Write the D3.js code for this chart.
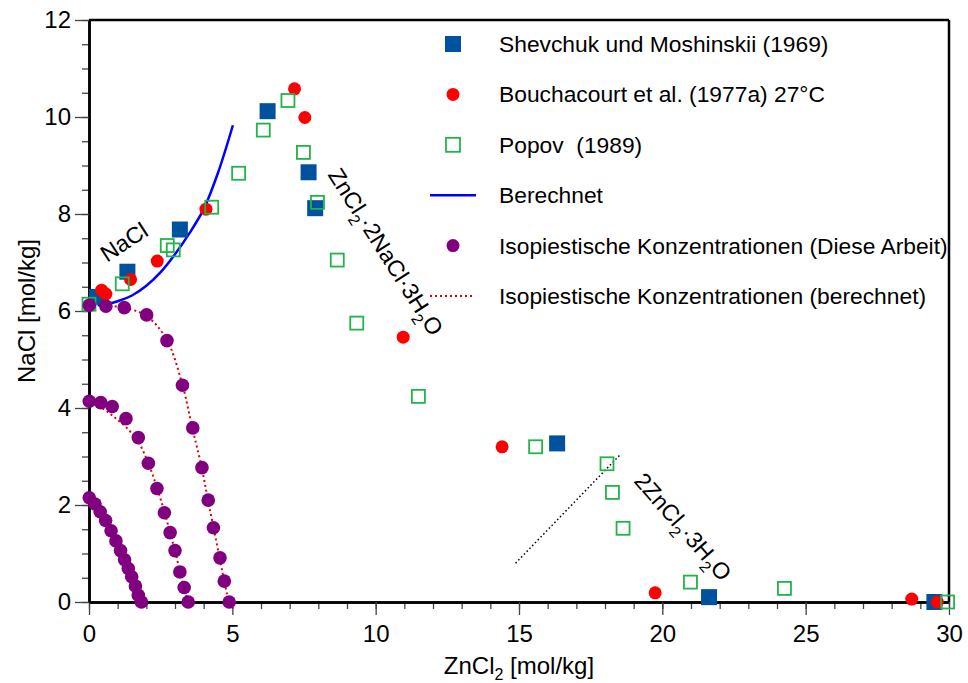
<!DOCTYPE html>
<html>
<head>
<meta charset="utf-8">
<script src="https://cdn.jsdelivr.net/npm/d3@7"></script>
<style>
  body { margin: 0; background: #fff; }
  text { font-family: "Liberation Sans", Arial, sans-serif; fill: #000; white-space: pre; }
</style>
</head>
<body>
<svg id="chart" width="968" height="683"></svg>
<script>
// Solubility data, NaCl–ZnCl2–H2O (mol/kg)
const shevchukX = [0.28, 1.34, 3.17, 6.23, 7.66, 7.89, 16.33, 21.63, 29.49];
const shevchukY = [6.29, 6.81, 7.68, 10.12, 8.86, 8.12, 3.27, 0.10, 0.0];

const bouchacourtX = [0.44, 0.59, 1.45, 2.38, 4.08, 7.17, 7.53, 10.96, 14.41, 19.75, 28.70, 29.59];
const bouchacourtY = [6.43, 6.35, 6.65, 7.03, 8.10, 10.58, 9.99, 5.46, 3.20, 0.19, 0.06, 0.0];

const popovX = [0.0, 1.16, 2.73, 2.94, 4.28, 5.22, 6.08, 6.94, 7.48, 7.97, 8.66, 9.34, 11.49, 15.58, 18.07, 18.26, 18.63, 20.98, 24.26, 29.95];
const popovY = [6.14, 6.56, 7.35, 7.26, 8.14, 8.84, 9.73, 10.34, 9.27, 8.24, 7.05, 5.75, 4.24, 3.20, 2.85, 2.26, 1.52, 0.41, 0.28, 0.0];

// Calculated NaCl solubility curve
const calcNaClX = [0.3, 0.6, 1.0, 1.5, 2.0, 2.5, 3.0, 3.5, 4.0, 4.5, 5.02];
const calcNaClY = [6.12, 6.14, 6.20, 6.32, 6.52, 6.80, 7.17, 7.60, 8.10, 8.85, 9.83];

// Isopiestic concentrations (this work), three series
const isoAX = [0.01, 0.59, 1.23, 2.01, 2.72, 3.26, 3.62, 3.94, 4.16, 4.34, 4.57, 4.72, 4.89];
const isoAY = [6.12, 6.10, 6.07, 5.92, 5.39, 4.47, 3.59, 2.77, 2.10, 1.53, 0.91, 0.43, 0.0];
const isoBX = [0.01, 0.41, 0.81, 1.29, 1.72, 2.07, 2.37, 2.63, 2.83, 3.00, 3.17, 3.32, 3.46];
const isoBY = [4.14, 4.11, 4.03, 3.78, 3.39, 2.86, 2.34, 1.84, 1.43, 1.06, 0.62, 0.30, 0.0];
const isoCX = [0.01, 0.21, 0.39, 0.58, 0.77, 0.94, 1.10, 1.24, 1.37, 1.49, 1.62, 1.72, 1.83];
const isoCY = [2.15, 2.02, 1.86, 1.68, 1.47, 1.26, 1.06, 0.87, 0.69, 0.52, 0.33, 0.14, 0.0];

// Isopiestic concentrations (calculated)
const calcAX = [0.55, 1.2, 2.0, 2.7, 3.25, 3.6, 3.93, 4.15, 4.35, 4.56, 4.72, 4.88];
const calcAY = [6.11, 6.07, 5.90, 5.42, 4.50, 3.60, 2.78, 2.10, 1.52, 0.90, 0.42, 0.0];
const calcBX = [0.0, 0.4, 0.8, 1.3, 1.72, 2.07, 2.38, 2.63, 2.83, 3.0, 3.18, 3.32, 3.46];
const calcBY = [4.12, 4.02, 3.85, 3.60, 3.30, 2.86, 2.34, 1.86, 1.43, 1.05, 0.62, 0.30, 0.0];
const calcCX = [0.0, 0.4, 0.8, 1.2, 1.5, 1.83];
const calcCY = [2.13, 1.85, 1.43, 0.93, 0.50, 0.0];

// Guide line near the ZnCl2 hydrate branch
const guideX = [14.88, 18.55];
const guideY = [0.80, 3.05];

const xMajor = [0, 5, 10, 15, 20, 25, 30];
const yMajor = [0, 2, 4, 6, 8, 10, 12];

const legendLabels = [
  "Shevchuk und Moshinskii (1969)",
  "Bouchacourt et al. (1977a) 27°C",
  "Popov  (1989)",
  "Berechnet",
  "Isopiestische Konzentrationen (Diese Arbeit)",
  "Isopiestische Konzentrationen (berechnet)"
];

const zip = (xs, ys) => xs.map((v, i) => [v, ys[i]]);

const svg = d3.select("#chart");
const x = d3.scaleLinear().domain([0, 30]).range([89, 949]);
const y = d3.scaleLinear().domain([0, 12]).range([602, 20]);

const COL = {
  blue: "#00519e", red: "#ff0000", green: "#22b34a",
  purple: "#800080", line: "#0000ff", dotted: "#e00000"
};

// Axes: minor ticks, then major ticks with labels
const gx = svg.append("g").attr("transform", `translate(0,${y(0)})`);
gx.append("g").call(d3.axisBottom(x).tickValues(d3.range(0, 31, 1)).tickSize(7).tickFormat("").tickSizeOuter(0));
gx.append("g").call(d3.axisBottom(x).tickValues(xMajor).tickSize(13).tickPadding(10).tickSizeOuter(0));
const gy = svg.append("g").attr("transform", `translate(${x(0)},0)`);
gy.append("g").call(d3.axisLeft(y).tickValues(d3.range(0, 12.01, 0.5)).tickSize(7).tickFormat("").tickSizeOuter(0));
gy.append("g").call(d3.axisLeft(y).tickValues(yMajor).tickSize(14).tickPadding(4).tickSizeOuter(0));

svg.selectAll(".tick line").attr("stroke", "#444").attr("stroke-width", 1.3);
svg.selectAll(".tick text").style("font-size", "24px").style("font-family", "'Liberation Sans', Arial, sans-serif").attr("fill", "#000");
svg.selectAll(".domain").attr("stroke", "#000").attr("stroke-width", 2.5);

// Frame top and right
svg.append("line").attr("x1", x(0)).attr("x2", x(30)).attr("y1", y(12)).attr("y2", y(12)).attr("stroke", "#000").attr("stroke-width", 2.5);
svg.append("line").attr("x1", x(30)).attr("x2", x(30)).attr("y1", y(12)).attr("y2", y(0)).attr("stroke", "#000").attr("stroke-width", 2.5);

// Axis titles
svg.append("text").attr("transform", `translate(35,${(y(0) + y(12)) / 2}) rotate(-90)`)
  .attr("text-anchor", "middle").style("font-size", "24px").text("NaCl [mol/kg]");
const xt = svg.append("text").attr("x", (x(0) + x(30)) / 2).attr("y", 674).attr("text-anchor", "middle").style("font-size", "24px");
xt.append("tspan").text("ZnCl");
xt.append("tspan").text("2").style("font-size", "16px").attr("dy", 6);
xt.append("tspan").text(" [mol/kg]").attr("dy", -6);

// Lines
const line = d3.line().x(d => x(d[0])).y(d => y(d[1]));
const smooth = d3.line().x(d => x(d[0])).y(d => y(d[1])).curve(d3.curveCatmullRom.alpha(0.5));

svg.append("path").datum(zip(guideX, guideY)).attr("d", line)
  .attr("fill", "none").attr("stroke", "#000").attr("stroke-width", 1.5).attr("stroke-dasharray", "1.5,2.5");

[zip(calcAX, calcAY), zip(calcBX, calcBY), zip(calcCX, calcCY)].forEach(s => {
  svg.append("path").datum(s).attr("d", smooth)
    .attr("fill", "none").attr("stroke", COL.dotted).attr("stroke-width", 2).attr("stroke-dasharray", "2,3");
});

svg.append("path").datum(zip(calcNaClX, calcNaClY)).attr("d", smooth)
  .attr("fill", "none").attr("stroke", COL.line).attr("stroke-width", 2.5);

// Markers
const SQ = 16, SQO = 13;
svg.append("g").selectAll("rect").data(zip(shevchukX, shevchukY)).join("rect")
  .attr("x", d => x(d[0]) - SQ / 2).attr("y", d => y(d[1]) - SQ / 2)
  .attr("width", SQ).attr("height", SQ).attr("fill", COL.blue);

svg.append("g").selectAll("circle").data(zip(bouchacourtX, bouchacourtY)).join("circle")
  .attr("cx", d => x(d[0])).attr("cy", d => y(d[1])).attr("r", 6.5).attr("fill", COL.red);

svg.append("g").selectAll("rect").data(zip(popovX, popovY)).join("rect")
  .attr("x", d => x(d[0]) - SQO / 2).attr("y", d => y(d[1]) - SQO / 2)
  .attr("width", SQO).attr("height", SQO).attr("fill", "none").attr("stroke", COL.green).attr("stroke-width", 1.8);

[zip(isoAX, isoAY), zip(isoBX, isoBY), zip(isoCX, isoCY)].forEach(s => {
  svg.append("g").selectAll("circle").data(s).join("circle")
    .attr("cx", d => x(d[0])).attr("cy", d => y(d[1])).attr("r", 6.8).attr("fill", COL.purple);
});

// Phase labels
svg.append("text").attr("transform", "translate(124,242) rotate(-33)")
  .attr("text-anchor", "middle").attr("dominant-baseline", "central").style("font-size", "23px").text("NaCl");

function hydrateLabel(parts, tx, ty, angle) {
  const t = svg.append("text").attr("transform", `translate(${tx},${ty}) rotate(${angle})`)
    .attr("text-anchor", "middle").style("font-size", "23px");
  parts.forEach(p => {
    const s = t.append("tspan").text(p[0]);
    if (p[1]) s.style("font-size", "16px").attr("dy", 7);
    if (p[2]) s.attr("dy", -7);
  });
}
hydrateLabel([["ZnCl"], ["2", true], ["·2NaCl·3H", false, true], ["2", true], ["O", false, true]], 379, 256, 57.5);
hydrateLabel([["2ZnCl"], ["2", true], ["·3H", false, true], ["2", true], ["O", false, true]], 677, 532, 49);

// Legend
const lg = svg.append("g");
const rowY = i => 44 + i * 50.4;
const symX = 453, txtX = 499;
lg.append("rect").attr("x", symX - 8).attr("y", rowY(0) - 8).attr("width", 16).attr("height", 16).attr("fill", COL.blue);
lg.append("circle").attr("cx", symX).attr("cy", rowY(1)).attr("r", 6.5).attr("fill", COL.red);
lg.append("rect").attr("x", symX - 7).attr("y", rowY(2) - 7).attr("width", 14).attr("height", 14)
  .attr("fill", "none").attr("stroke", COL.green).attr("stroke-width", 1.8);
lg.append("line").attr("x1", 430).attr("x2", 476).attr("y1", rowY(3)).attr("y2", rowY(3))
  .attr("stroke", COL.line).attr("stroke-width", 2.5);
lg.append("circle").attr("cx", symX).attr("cy", rowY(4)).attr("r", 6.5).attr("fill", COL.purple);
lg.append("line").attr("x1", 430).attr("x2", 474).attr("y1", rowY(5)).attr("y2", rowY(5))
  .attr("stroke", COL.dotted).attr("stroke-width", 2).attr("stroke-dasharray", "2,3");
legendLabels.forEach((l, i) => {
  lg.append("text").attr("x", txtX).attr("y", rowY(i)).attr("dominant-baseline", "central")
    .style("font-size", "22.8px").text(l);
});
</script>
</body>
</html>
